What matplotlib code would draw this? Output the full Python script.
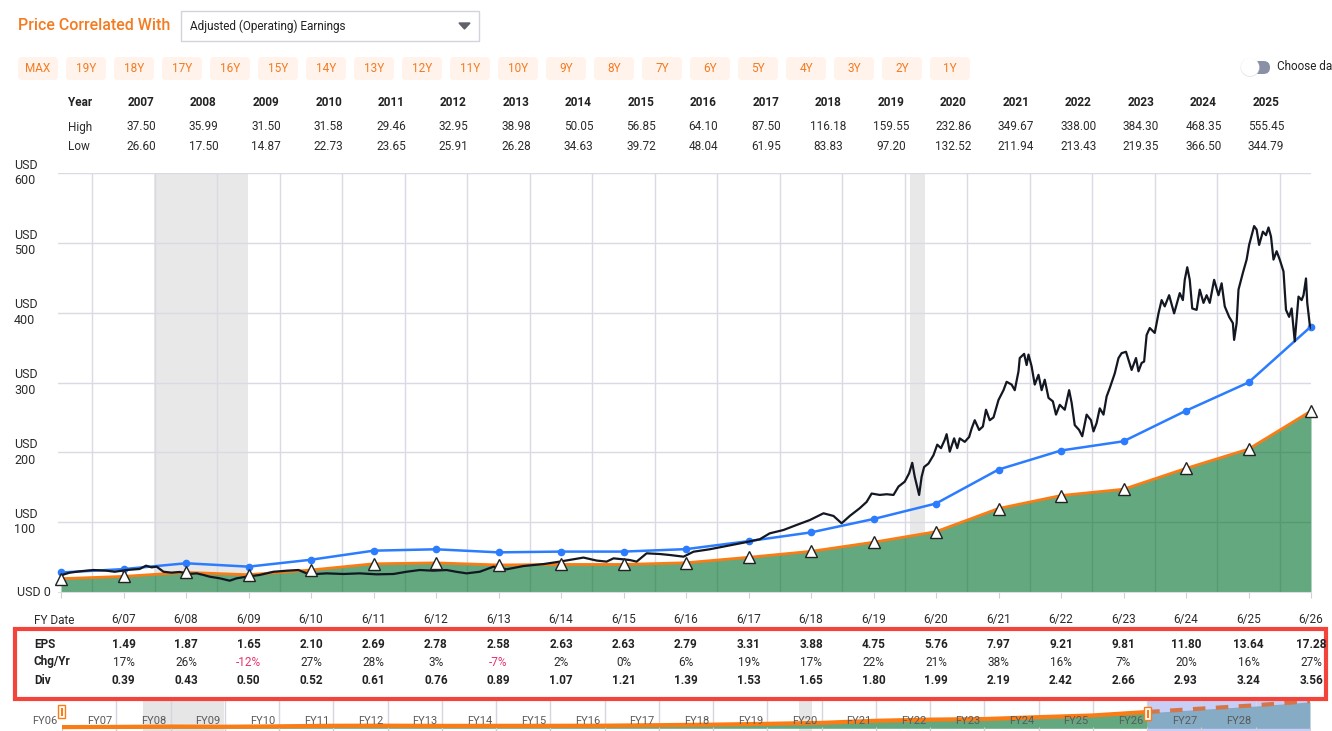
import numpy as np
import matplotlib
matplotlib.use('Agg')
import matplotlib.pyplot as plt
from matplotlib.patches import Rectangle, FancyBboxPatch, Polygon, Circle

plt.rcParams['font.family'] = ['Roboto', 'DejaVu Sans']

W, H = 1332, 731

# ---------------- data ----------------
years = [2007, 2008, 2009, 2010, 2011, 2012, 2013, 2014, 2015, 2016,
         2017, 2018, 2019, 2020, 2021, 2022, 2023, 2024, 2025]
year_high = ['37.50', '35.99', '31.50', '31.58', '29.46', '32.95', '38.98', '50.05', '56.85', '64.10',
             '87.50', '116.18', '159.55', '232.86', '349.67', '338.00', '384.30', '468.35', '555.45']
year_low = ['26.60', '17.50', '14.87', '22.73', '23.65', '25.91', '26.28', '34.63', '39.72', '48.04',
            '61.95', '83.83', '97.20', '132.52', '211.94', '213.43', '219.35', '366.50', '344.79']

# fiscal year ends (June), 6/06 .. 6/26
fy_dates = [2006.5, 2007.5, 2008.5, 2009.5, 2010.5, 2011.5, 2012.5, 2013.5, 2014.5, 2015.5, 2016.5,
            2017.5, 2018.5, 2019.5, 2020.5, 2021.5, 2022.5, 2023.5, 2024.5, 2025.5, 2026.5]
fy_labels = ['6/07', '6/08', '6/09', '6/10', '6/11', '6/12', '6/13', '6/14', '6/15', '6/16',
             '6/17', '6/18', '6/19', '6/20', '6/21', '6/22', '6/23', '6/24', '6/25', '6/26']
eps = [1.27, 1.49, 1.87, 1.65, 2.10, 2.69, 2.78, 2.58, 2.63, 2.63, 2.79,
       3.31, 3.88, 4.75, 5.76, 7.97, 9.21, 9.81, 11.80, 13.64, 17.28]
chg_yr = [17, 26, -12, 27, 28, 3, -7, 2, 0, 6, 19, 17, 22, 21, 38, 16, 7, 20, 16, 27]
div = [0.39, 0.43, 0.50, 0.52, 0.61, 0.76, 0.89, 1.07, 1.21, 1.39,
       1.53, 1.65, 1.80, 1.99, 2.19, 2.42, 2.66, 2.93, 3.24, 3.56]

# analyst estimates shown only in the navigator
fcst_dates = [2026.5, 2027.5, 2028.5, 2029.5]
fcst_eps = [17.28, 20.9, 24.4, 28.8]

pe_base = 15      # orange / green earnings line
pe_normal = 22    # blue normal P/E line

recessions = [(2007.99, 2009.49), (2020.08, 2020.32)]

price_t = [2006.50, 2006.64, 2006.80, 2007.02, 2007.23, 2007.36, 2007.55, 2007.76, 2007.86, 2007.95,
           2008.03, 2008.14, 2008.27, 2008.40, 2008.54, 2008.67, 2008.78, 2008.88, 2009.04, 2009.20,
           2009.31, 2009.47, 2009.68, 2009.90, 2010.11, 2010.30, 2010.43, 2010.59, 2010.75, 2011.02,
           2011.28, 2011.55, 2011.82, 2012.03, 2012.24, 2012.46, 2012.67, 2012.82, 2012.99, 2013.20,
           2013.42, 2013.63, 2013.90, 2014.22, 2014.48, 2014.70, 2014.86, 2015.07, 2015.23, 2015.34,
           2015.60, 2015.71, 2015.87, 2016.08, 2016.24, 2016.46, 2016.62, 2016.88, 2017.15, 2017.42,
           2017.68, 2017.84, 2018.06, 2018.27, 2018.48, 2018.70, 2018.86, 2018.99, 2019.12, 2019.28,
           2019.39, 2019.47,
           2019.60, 2019.71, 2019.82, 2019.90, 2020.00, 2020.07, 2020.12, 2020.16, 2020.23, 2020.27,
           2020.31, 2020.38, 2020.46, 2020.52, 2020.58, 2020.64, 2020.67, 2020.72, 2020.79, 2020.84,
           2020.88, 2020.96, 2021.03, 2021.07, 2021.12, 2021.19, 2021.25, 2021.30, 2021.36, 2021.42,
           2021.50, 2021.58, 2021.63, 2021.71, 2021.76, 2021.82, 2021.84, 2021.91, 2021.95, 2021.98,
           2022.03, 2022.08, 2022.14, 2022.19, 2022.24, 2022.30, 2022.37, 2022.42, 2022.48, 2022.56,
           2022.63, 2022.67, 2022.72, 2022.79, 2022.84, 2022.91, 2022.98, 2023.02, 2023.07, 2023.12,
           2023.18, 2023.23, 2023.28, 2023.36, 2023.42, 2023.47, 2023.54, 2023.63, 2023.70, 2023.74,
           2023.79, 2023.83, 2023.87, 2023.92, 2024.00, 2024.06, 2024.11, 2024.16, 2024.23, 2024.31,
           2024.40, 2024.45, 2024.48, 2024.52, 2024.56, 2024.60, 2024.67, 2024.72, 2024.78, 2024.83,
           2024.88, 2024.95, 2025.02, 2025.07, 2025.12, 2025.19, 2025.25, 2025.27, 2025.31, 2025.34,
           2025.41, 2025.47, 2025.51, 2025.59, 2025.63, 2025.67, 2025.73, 2025.78, 2025.82, 2025.86,
           2025.90, 2025.95, 2026.00, 2026.06, 2026.10, 2026.15, 2026.19, 2026.24, 2026.30, 2026.35,
           2026.38, 2026.42, 2026.44, 2026.48, 2026.50]
price_v = [24.0, 27.7, 29.6, 31.5, 30.5, 29.0, 31.5, 33.0, 37.7, 35.3,
           36.3, 29.0, 27.7, 28.7, 25.8, 26.7, 24.4, 21.9, 19.6, 16.2,
           19.6, 21.9, 24.4, 29.0, 30.5, 31.5, 26.7, 25.8, 26.7, 25.8,
           26.7, 25.3, 25.8, 29.0, 31.5, 30.5, 31.5, 29.0, 26.7, 29.0,
           36.3, 32.5, 37.2, 40.0, 43.5, 46.8, 49.3, 45.0, 43.5, 48.2,
           45.8, 43.5, 55.4, 54.4, 53.0, 50.6, 57.7, 61.2, 65.9, 70.6,
           75.5, 84.0, 88.8, 96.0, 103.0, 112.7, 108.9, 98.4, 108.9, 120,
           129, 141,
           139, 140, 139, 151, 158, 170, 185, 165, 139, 165,
           179, 184, 196, 211, 206, 218, 226, 201, 220, 206,
           220, 215, 222, 234, 246, 232, 237, 261, 246, 250,
           275, 289, 301, 297, 289, 316, 335, 341, 325, 340,
           323, 297, 311, 289, 304, 278, 273, 254, 268, 261,
           289, 271, 239, 232, 223, 254, 246, 230, 242, 263,
           254, 280, 292, 313, 335, 342, 344, 318, 335, 316,
           328, 330, 368, 378, 371, 399, 418, 409, 425, 399,
           428, 418, 447, 465, 447, 406, 404, 433, 414, 425,
           414, 447, 425, 442, 409, 394, 385, 361, 385, 433,
           457, 476, 497, 524, 519, 497, 516, 511, 522, 509,
           476, 488, 476, 459, 404, 394, 406, 359, 423, 418,
           425, 449, 414, 383, 378]

# ---------------- colours ----------------
ORANGE = '#fb7c14'
GREEN = '#63a87e'
BLUE = '#2b7cff'
GRID = '#dadae4'
TXT = '#2b2b2b'

base_line = [e * pe_base for e in eps]
normal_line = [e * pe_normal for e in eps]

fig = plt.figure(figsize=(W / 100, H / 100), dpi=100)
fig.patch.set_facecolor('white')


def fx(x):
    return x / W


def fy(y):
    return 1 - y / H


# ---------------- main chart ----------------
ax = fig.add_axes([fx(58), fy(592), (1311 - 58) / W, (592 - 173) / H])
ax.set_xlim(2006.452, 2026.5)
ax.set_ylim(0, 600)

for a, b in recessions:
    ax.axvspan(a, b, color='#e8e8e8', lw=0, zorder=0)
for yr in range(2007, 2027):
    ax.axvline(yr, color=GRID, lw=1, zorder=0.5)
for v in range(100, 601, 100):
    ax.axhline(v, color=GRID, lw=1, zorder=0.5)

fill = ax.fill_between(fy_dates, 0, base_line, color=GREEN, lw=0, zorder=2)
clip = fill.get_paths()[0]
for yr in range(2007, 2027):
    ln = ax.axvline(yr, color='#579a70', lw=1, zorder=2.1)
    ln.set_clip_path(clip, ax.transData)
for v in range(100, 601, 100):
    ln = ax.axhline(v, color='#579a70', lw=1, zorder=2.1)
    ln.set_clip_path(clip, ax.transData)

ax.plot(fy_dates, base_line, color=ORANGE, lw=2, zorder=3)
ax.plot(fy_dates, normal_line, color=BLUE, lw=1.8, marker='o', ms=4.5, zorder=4, clip_on=False)
ax.plot(price_t, price_v, color='#131722', lw=1.6, zorder=5)
ax.plot(fy_dates, base_line, ls='none', marker='^', ms=9, mfc='white', mec='#222222',
        mew=1, zorder=6, clip_on=False)

for s in ['top', 'right', 'left']:
    ax.spines[s].set_visible(False)
ax.spines['bottom'].set_color('#dcdce4')
ax.set_xticks(fy_dates)
ax.set_yticks([])
ax.tick_params(axis='x', length=4, color='#cfcfd8', labelbottom=False)

# ---------------- navigator ----------------
nav = fig.add_axes([fx(62), fy(731), (1310 - 62) / W, 31 / H])
nav.set_xlim(2006.5, 2029.5)
nav.set_ylim(-43, 450)
nav.axvspan(2026.5, 2029.5, color='#c8cef6', lw=0, zorder=0)
for a, b in recessions:
    nav.axvspan(a, b, color='#e6e6e6', lw=0, zorder=0)
for t in fy_dates[1:] + fcst_dates[1:]:
    nav.axvline(t, color='#d6d6e0', lw=1, zorder=0.5)
nav.fill_between(fy_dates, 0, base_line, color=GREEN, lw=0, zorder=1)
fcst_line = [e * pe_base for e in fcst_eps]
nav.fill_between(fcst_dates, 0, [v - 12 for v in fcst_line], color='#86acc5', lw=0, zorder=1)
nav.plot(fy_dates, base_line, color=ORANGE, lw=3, zorder=2, solid_capstyle='butt')
nav.plot(fcst_dates, fcst_line, color='#d4764a', lw=3, ls=(0, (3, 2.5)), zorder=2)
for s in nav.spines.values():
    s.set_visible(False)
nav.set_xticks(fy_dates + fcst_dates[1:])
nav.set_yticks([])
nav.tick_params(axis='x', length=3, color='#cfcfd8', labelbottom=False, direction='in')
nav_labels = ['FY%02d' % (6 + k) for k in range(23)]
for k, lab in enumerate(nav_labels):
    nav.annotate(lab, xy=(2006.5 + k, 0.33), xycoords=('data', 'axes fraction'),
                 xytext=(-3, 0), textcoords='offset points', ha='right', va='center',
                 fontsize=8, color='#5a5a5a', annotation_clip=False, zorder=3)

# ---------------- overlay in pixel coordinates ----------------
ov = fig.add_axes([0, 0, 1, 1])
ov.set_xlim(0, W)
ov.set_ylim(H, 0)
ov.axis('off')
ov.patch.set_alpha(0)

ov.text(18, 26, 'Price Correlated With', color='#f47b20', fontsize=11.5, fontweight='medium',
        ha='left', va='center')
ov.add_patch(Rectangle((181, 11), 298, 30, facecolor='white', edgecolor='#d3d3dc', lw=1))
ov.text(190, 26, 'Adjusted (Operating) Earnings', color='#222222', fontsize=8.5,
        ha='left', va='center')
ov.add_patch(Polygon([[459, 23], [470, 23], [464.5, 29]], closed=True, color='#5f6368'))

buttons = ['MAX', '19Y', '18Y', '17Y', '16Y', '15Y', '14Y', '13Y', '12Y', '11Y',
           '10Y', '9Y', '8Y', '7Y', '6Y', '5Y', '4Y', '3Y', '2Y', '1Y']
for i, b in enumerate(buttons):
    cx = 38 + 48 * i
    ov.add_patch(FancyBboxPatch((cx - 20, 57), 40, 23, boxstyle='round,pad=0,rounding_size=4',
                                facecolor='#fff3ec', edgecolor='none'))
    ov.text(cx, 68.5, b, color='#f47b20', fontsize=8.5, ha='center', va='center')

# toggle
ov.add_patch(FancyBboxPatch((1243, 61), 27, 13, boxstyle='round,pad=0,rounding_size=6.5',
                            facecolor='#8a90a6', edgecolor='none'))
ov.add_patch(Circle((1250, 67.5), 9.5, facecolor='#e6e6ea', edgecolor='none'))
ov.add_patch(Circle((1250, 67), 9, facecolor='white', edgecolor='none'))
ov.text(1277, 67, 'Choose date', color='#222222', fontsize=8.5, ha='left', va='center')

# year high / low table
ov.text(68, 102, 'Year', color='#222222', fontsize=8.5, fontweight='bold', ha='left', va='center')
ov.text(68, 127, 'High', color=TXT, fontsize=8.5, ha='left', va='center')
ov.text(68, 146, 'Low', color=TXT, fontsize=8.5, ha='left', va='center')
for i, yr in enumerate(years):
    cx = 141 + 62.5 * i
    ov.text(cx, 102, str(yr), color='#222222', fontsize=8.5, fontweight='bold', ha='center', va='center')
    ov.text(cx, 127, year_high[i], color=TXT, fontsize=8.5, ha='center', va='center')
    ov.text(cx, 146, year_low[i], color=TXT, fontsize=8.5, ha='center', va='center')

# y axis labels
fig.canvas.draw()
for v in range(100, 601, 100):
    ypx = H - ax.transData.transform((2010, v))[1]
    ov.text(14, ypx, 'USD\n%d' % v, color=TXT, fontsize=9, ha='left', va='center', linespacing=1.25)
ov.text(17, H - ax.transData.transform((2010, 0))[1], 'USD 0', color=TXT, fontsize=9,
        ha='left', va='center')

# fiscal year table
ov.add_patch(Rectangle((15, 629), 1311, 70, facecolor='none', edgecolor='#f4433a', lw=3))
ov.text(34, 620, 'FY Date', color=TXT, fontsize=8.5, ha='left', va='center')
ov.text(34, 644, 'EPS', color='#222222', fontsize=8.5, fontweight='bold', ha='left', va='center')
ov.text(34, 662, 'Chg/Yr', color='#222222', fontsize=8.5, fontweight='bold', ha='left', va='center')
ov.text(34, 681, 'Div', color='#222222', fontsize=8.5, fontweight='bold', ha='left', va='center')
for i, lab in enumerate(fy_labels):
    cx = ax.transData.transform((fy_dates[i + 1], 0))[0]
    ov.text(cx, 620, lab, color=TXT, fontsize=8.5, ha='center', va='center')
    ov.text(cx, 644, '%.2f' % eps[i + 1], color='#222222', fontsize=8.5, fontweight='bold',
            ha='center', va='center')
    c = '#e8336b' if chg_yr[i] < 0 else TXT
    ov.text(cx, 662, '%d%%' % chg_yr[i], color=c, fontsize=8.5, ha='center', va='center')
    ov.text(cx, 681, '%.2f' % div[i], color='#222222', fontsize=8.5, fontweight='bold',
            ha='center', va='center')

# navigator handles
for hx, hy in [(58, 705), (1144, 707)]:
    ov.add_patch(Rectangle((hx, hy), 7, 13, facecolor='white', edgecolor=ORANGE, lw=1, zorder=5))
    ov.plot([hx + 2.6, hx + 2.6], [hy + 3, hy + 10], color=ORANGE, lw=0.8, zorder=6)
    ov.plot([hx + 4.4, hx + 4.4], [hy + 3, hy + 10], color=ORANGE, lw=0.8, zorder=6)

fig.savefig('out.png', dpi=100)
